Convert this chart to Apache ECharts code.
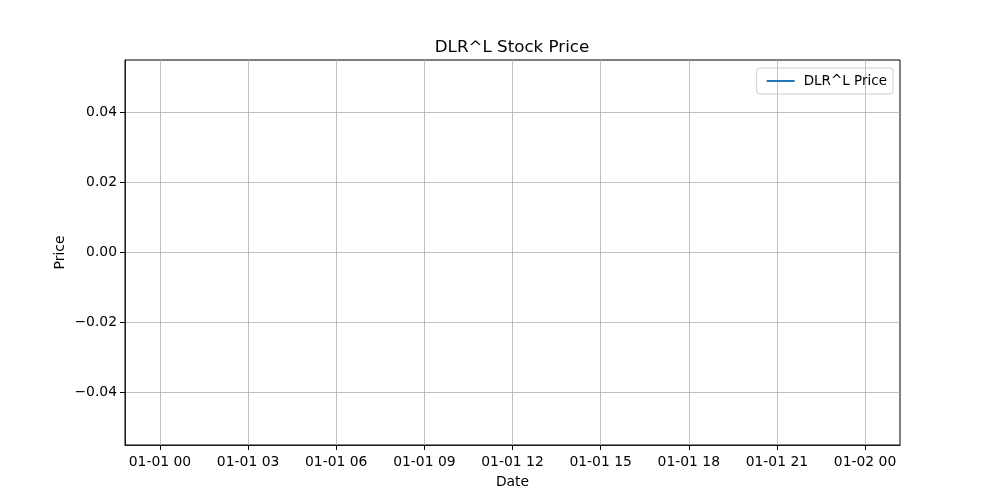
<!DOCTYPE html>
<html>
<head>
<meta charset="utf-8">
<script src="https://cdn.jsdelivr.net/npm/echarts@6/dist/echarts.min.js"></script>
<style>
  html, body { margin: 0; padding: 0; background: #fff; }
  #chart { width: 1000px; height: 500px; }
</style>
</head>
<body>
<div id="chart"></div>
<script>
// empty price series (nothing plotted in the reference)
const seriesName = 'DLR^L Price';
const priceData = [];
// x ticks in hours since 01-01 00
const hourTicks = [0, 3, 6, 9, 12, 15, 18, 21, 24];
const priceTicks = [-0.04, -0.02, 0, 0.02, 0.04];
const xRange = [-1.19, 25.19];
const yRange = [-0.055, 0.055];

const pad = n => String(n).padStart(2, '0');
const hourLabel = h => pad(1) + '-' + pad(1 + Math.floor(h / 24)) + ' ' + pad(h % 24);
const priceLabel = v => (v < 0 ? '\u2212' : '') + Math.abs(v).toFixed(2);

const font = 'DejaVu Sans';
let chart = echarts.init(document.getElementById('chart'));
chart.setOption({
    animation: false,
    textStyle: { fontFamily: font },
    title: {
        text: 'DLR^L Stock Price',
        left: 507, top: 34, textAlign: 'center',
        textStyle: { fontFamily: font, fontSize: 16.7, fontWeight: 'normal', color: '#000' }
    },
    legend: {
        right: 107, top: 68,
        orient: 'vertical',
        icon: 'rect', itemWidth: 28, itemHeight: 2, itemGap: 4,
        padding: [6, 6, 6, 10],
        borderColor: '#cccccc', borderWidth: 1, borderRadius: 3,
        textStyle: { fontFamily: font, fontSize: 13.5, color: '#000', padding: [0, 0, 0, 4] },
        data: [seriesName]
    },
    grid: {
        left: 125, right: 100, top: 60, bottom: 55,
        show: true, borderColor: '#000', borderWidth: 1
    },
    xAxis: {
        type: 'value',
        min: xRange[0], max: xRange[1],
        name: 'Date', nameLocation: 'middle', nameGap: 30,
        nameTextStyle: { fontFamily: font, fontSize: 13.9, color: '#000' },
        axisLine: { show: true, onZero: false, lineStyle: { color: '#000', width: 0.8 } },
        axisTick: { show: true, inside: false, length: 5, lineStyle: { color: '#000' }, customValues: hourTicks },
        axisLabel: { color: '#000', fontSize: 13.9, margin: 10, customValues: hourTicks, formatter: hourLabel },
        splitLine: { show: true, lineStyle: { color: '#b0b0b0', width: 0.8 } }
    },
    yAxis: {
        type: 'value',
        min: yRange[0], max: yRange[1],
        name: 'Price', nameLocation: 'middle', nameGap: 58, nameMoveOverlap: false,
        nameTextStyle: { fontFamily: font, fontSize: 13.9, color: '#000' },
        axisLine: { show: true, onZero: false, lineStyle: { color: '#000', width: 0.8 } },
        axisTick: { show: true, inside: false, length: 5, lineStyle: { color: '#000' }, customValues: priceTicks },
        axisLabel: { color: '#000', fontSize: 13.9, margin: 8, customValues: priceTicks, formatter: priceLabel },
        splitLine: { show: true, lineStyle: { color: '#b0b0b0', width: 0.8 } }
    },
    series: [{
        name: seriesName,
        type: 'line',
        data: priceData,
        showSymbol: false,
        lineStyle: { color: '#1f77b4', width: 1.5 },
        itemStyle: { color: '#1f77b4' }
    }]
});
</script>
</body>
</html>
